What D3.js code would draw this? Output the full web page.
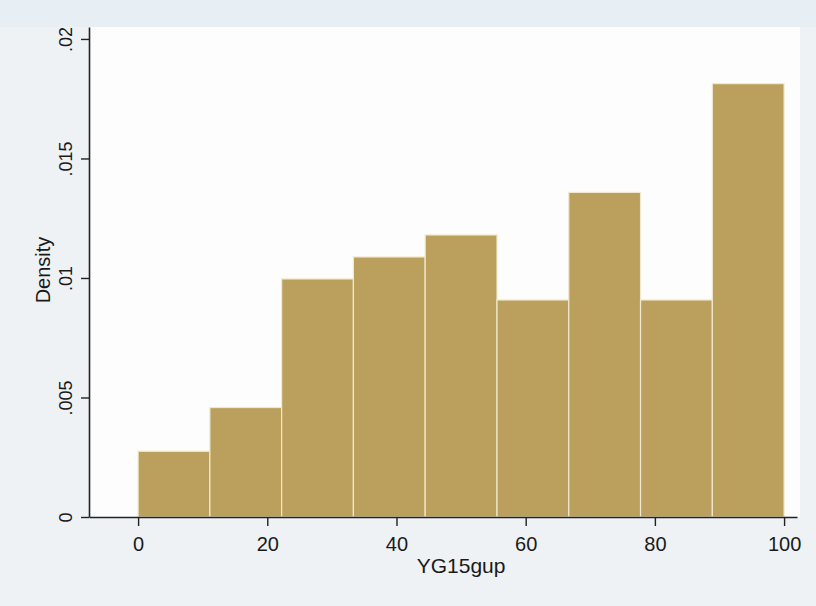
<!DOCTYPE html>
<html>
<head>
<meta charset="utf-8">
<script src="https://cdn.jsdelivr.net/npm/d3@7"></script>
<style>
body{margin:0;background:#eef2f5;}
svg{display:block;}
</style>
</head>
<body>
<div id="chart"></div>
<script>
// histogram of YG15gup, 9 bins over 0..100
var binEdges=[0,11.11,22.22,33.33,44.44,55.56,66.67,77.78,88.89,100];
var density=[0.00275,0.00458,0.00996,0.01088,0.01180,0.00908,0.01358,0.00908,0.01813];
var xTicks=[0,20,40,60,80,100];
var yTicks=[0,0.005,0.01,0.015,0.02];
var yTickLabels=["0",".005",".01",".015",".02"];

var width=816,height=606;
var font="Liberation Sans, Arial, sans-serif";
var svg=d3.select("#chart")
	.append("svg")
	.attr("width",width)
	.attr("height",height);

// scanned page background
svg.append("rect").attr("width",width).attr("height",height).attr("fill","#eef2f5");
svg.append("rect").attr("width",width).attr("height",27).attr("fill","#e8eff4");

var x=d3.scaleLinear().domain([-7.6,102]).range([89,797]);
var y=d3.scaleLinear().domain([0,0.0205]).range([517,27]);

// plot region
svg.append("rect")
	.attr("x",89).attr("y",27)
	.attr("width",711).attr("height",490)
	.attr("fill","#fdfdfd");

svg.selectAll("rect.bar")
	.data(density)
	.enter()
	.append("rect")
	.attr("class","bar")
	.attr("x",function(d,i){return x(binEdges[i]);})
	.attr("y",function(d){return y(d);})
	.attr("width",function(d,i){return x(binEdges[i+1])-x(binEdges[i]);})
	.attr("height",function(d){return y(0)-y(d);})
	.attr("fill","#baa05c")
	.attr("stroke","#f1e9cf")
	.attr("stroke-width",1.2);

var xAxis=svg.append("g")
	.attr("transform","translate(0,517)")
	.call(d3.axisBottom(x).tickValues(xTicks).tickSize(9).tickPadding(11).tickSizeOuter(0));
var yAxis=svg.append("g")
	.attr("transform","translate(89,0)")
	.call(d3.axisLeft(y).tickValues(yTicks).tickSize(8).tickSizeOuter(0)
		.tickFormat(function(d,i){return yTickLabels[i];}));

[xAxis,yAxis].forEach(function(g){
	g.select(".domain").attr("stroke","#222").attr("stroke-width",1.6);
	g.selectAll(".tick line").attr("stroke","#222").attr("stroke-width",1.4);
	g.selectAll("text")
		.attr("font-family",font)
		.attr("fill","#1a1a1a");
});
xAxis.selectAll("text").attr("font-size",20);
yAxis.selectAll("text").attr("font-size",18);
xAxis.attr("font-size",20);
yAxis.attr("font-size",18);

yAxis.selectAll(".tick text")
	.attr("x",0).attr("dy",0)
	.attr("text-anchor","middle")
	.attr("transform","translate(-17,0) rotate(-90)");

svg.append("text")
	.attr("x",x(50))
	.attr("y",573)
	.attr("text-anchor","middle")
	.attr("font-family",font)
	.attr("font-size",21)
	.attr("fill","#1a1a1a")
	.text("YG15gup");

svg.append("text")
	.attr("transform","translate(50,270) rotate(-90)")
	.attr("text-anchor","middle")
	.attr("font-family",font)
	.attr("font-size",20)
	.attr("fill","#1a1a1a")
	.text("Density");
</script>
</body>
</html>
